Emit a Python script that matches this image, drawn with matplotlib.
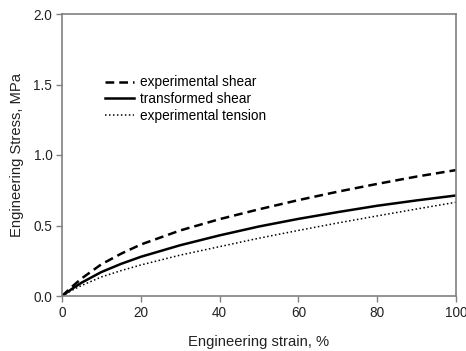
import matplotlib
matplotlib.use("Agg")
import matplotlib.pyplot as plt

strain = [0, 2.5, 5, 10, 15, 20, 30, 40, 50, 60, 70, 80, 90, 100]
exp_shear = [0, 0.065, 0.125, 0.225, 0.30, 0.365, 0.465, 0.545, 0.615, 0.68, 0.74, 0.795, 0.847, 0.893]
trans_shear = [0, 0.05, 0.095, 0.17, 0.228, 0.278, 0.36, 0.43, 0.493, 0.547, 0.595, 0.64, 0.678, 0.713]
exp_tension = [0, 0.04, 0.075, 0.135, 0.18, 0.22, 0.29, 0.35, 0.41, 0.465, 0.518, 0.568, 0.617, 0.665]

xticks = [0, 20, 40, 60, 80, 100]
yticks = [0.0, 0.5, 1.0, 1.5, 2.0]

plt.rcParams['font.family'] = ['Liberation Sans', 'DejaVu Sans']

fig = plt.figure(figsize=(4.66, 3.51), dpi=100)
ax = fig.add_axes([62/466, 55/351, (456-62)/466, (296-14)/351])

ax.plot(strain, exp_shear, color='black', lw=1.8, linestyle=(0, (3.5, 2)), label='experimental shear')
ax.plot(strain, trans_shear, color='black', lw=1.8, linestyle='-', label='transformed shear')
ax.plot(strain, exp_tension, color='black', lw=1.1, linestyle=(0, (1, 1.6)), label='experimental tension')

ax.set_xlim(0, 100)
ax.set_ylim(0, 2.0)
ax.set_xticks(xticks)
ax.set_yticks(yticks)
ax.set_xticklabels([str(t) for t in xticks])
ax.set_yticklabels([f"{t:.1f}" for t in yticks])

for s in ax.spines.values():
    s.set_color('#808080')
    s.set_linewidth(1.2)
ax.tick_params(axis='both', direction='out', length=4, width=1.0, color='#808080',
               labelsize=9.8, pad=3, labelcolor='#222222')

ax.set_xlabel('Engineering strain, %', fontsize=10.6, labelpad=11, color='#222222')
ax.set_ylabel('Engineering Stress, MPa', fontsize=10.6, labelpad=7, color='#222222')

leg = ax.legend(loc='upper left', bbox_to_anchor=((105-62)/394 - 0.015, (296-70)/282),
                frameon=False, fontsize=9.8, handlelength=2.2, handletextpad=0.37,
                labelspacing=0.2, borderaxespad=0)

fig.savefig('out.png', dpi=100)
